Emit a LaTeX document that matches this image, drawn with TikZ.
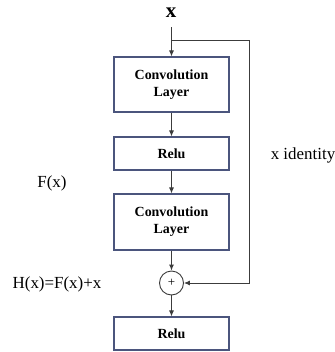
\documentclass[tikz,border=0pt]{standalone}
\usepackage{fontspec}
\setmainfont{Liberation Serif}
\usetikzlibrary{arrows.meta}
\definecolor{boxline}{RGB}{75,85,125}
\definecolor{wire}{RGB}{60,60,60}
\tikzset{
    layer/.style={draw=boxline, line width=1.1bp, minimum width=115bp, inner sep=0pt, align=center, font=\fontsize{14}{17}\selectfont\bfseries},
    flow/.style={-{Latex[length=6bp,width=5bp]}, wire, line width=0.9bp},
    lbl/.style={font=\fontsize{17}{20}\selectfont}
}
\begin{document}
\begin{tikzpicture}[x=1bp, y=-1bp]
        \useasboundingbox (0,0) rectangle (335,352);
        \node[font=\fontsize{21}{24}\selectfont\bfseries] (in) at (171,13) {x};
        \node[layer, minimum height=55bp] (conv1) at (171.5,84.5) {Convolution\\Layer};
        \node[layer, minimum height=33bp] (relu1) at (171.5,153.5) {Relu};
        \node[layer, minimum height=56bp] (conv2) at (171.5,222) {Convolution\\Layer};
        \node[draw=wire, line width=0.9bp, circle, minimum size=24bp, inner sep=0pt, font=\fontsize{13}{13}\selectfont] (sum) at (171.5,283) {+};
        \node[layer, minimum height=33bp] (relu2) at (171.5,333.5) {Relu};
        \coordinate (split) at (171.5,40);
        \coordinate (corner1) at (249,40);
        \coordinate (corner2) at (249,283);
        \draw[wire, line width=0.9bp] (171.5,27) -- (split);
        \draw[flow] (split) -- (conv1);
        \draw[flow] (conv1) -- (relu1);
        \draw[flow] (relu1) -- (conv2);
        \draw[flow] (conv2) -- (sum);
        \draw[flow] (sum) -- (relu2);
        \draw[flow] (split) -- (corner1) -- (corner2) -- (sum);
        \node[lbl] (ident) at (303,155) {x identity};
        \node[lbl] (fx) at (52,183) {F(x)};
        \node[lbl] (hx) at (57,284) {H(x)=F(x)+x};
\end{tikzpicture}
\end{document}
